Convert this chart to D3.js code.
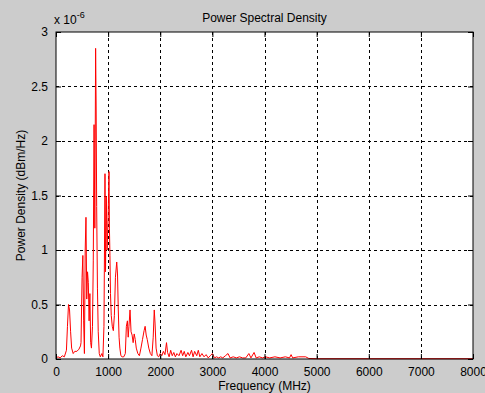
<!DOCTYPE html>
<html>
<head>
<meta charset="utf-8">
<script src="https://cdn.jsdelivr.net/npm/d3@7"></script>
<style>
  body { margin: 0; background: #cccccc; }
  svg { display: block; font-family: "Liberation Sans", Arial, sans-serif; }
</style>
</head>
<body>
<div id="chart"></div>
<script>
// frequency (MHz) and power density (x 10^-6 dBm/Hz)
const freqMHz = [0, 40, 80, 120, 160, 200, 220, 240, 260, 280, 300, 330, 360, 400, 440, 470,
  480, 500, 515, 530, 545, 560, 575, 590, 605, 620, 635, 650, 665, 680, 700, 715, 730, 745, 760, 770,
  780, 795, 810, 830, 850, 880, 900, 920, 940, 950, 965, 980, 1000, 1017, 1025, 1035, 1045, 1060,
  1080, 1100, 1120, 1140, 1165, 1180, 1195, 1210, 1225, 1245, 1270, 1300, 1330, 1350, 1370, 1385, 1400,
  1420, 1440, 1460, 1480, 1500, 1520, 1540, 1570, 1600, 1630, 1660, 1690, 1710, 1730, 1750, 1780,
  1810, 1840, 1865, 1885, 1900, 1920, 1945, 1970, 2000, 2030, 2060, 2090, 2120, 2140, 2170, 2200,
  2230, 2260, 2290, 2320, 2360, 2400, 2430, 2460, 2490, 2530, 2560, 2600, 2630, 2660, 2700, 2730,
  2760, 2800, 2840, 2880, 2920, 2960, 3000, 3040, 3080, 3120, 3160, 3200, 3250, 3300, 3340, 3400,
  3460, 3520, 3580, 3640, 3700, 3740, 3800, 3840, 3900, 3960, 4020, 4100, 4200, 4300, 4400, 4480,
  4510, 4540, 4650, 4790, 4850, 5000, 6000, 7000, 8000];
const psd = [0.01, 0.02, 0.01, 0.03, 0.02, 0.08, 0.30, 0.50, 0.45, 0.25, 0.10, 0.05, 0.07, 0.07, 0.09, 0.12,
  0.15, 0.75, 0.95, 0.35, 0.05, 1.00, 1.30, 0.55, 0.80, 0.70, 0.35, 0.60, 0.15, 0.10, 0.30, 0.90, 2.15, 1.20, 2.85, 2.33,
  1.40, 0.65, 0.25, 0.05, 0.02, 0.05, 0.02, 0.30, 1.70, 0.80, 1.49, 1.00, 1.30, 1.72, 1.20, 0.95, 0.60, 0.40,
  0.30, 0.26, 0.40, 0.75, 0.89, 0.78, 0.45, 0.20, 0.10, 0.03, 0.02, 0.02, 0.05, 0.30, 0.35, 0.20, 0.30,
  0.45, 0.25, 0.22, 0.15, 0.23, 0.18, 0.10, 0.05, 0.03, 0.10, 0.18, 0.26, 0.30, 0.22, 0.18, 0.10,
  0.05, 0.03, 0.20, 0.45, 0.33, 0.10, 0.03, 0.02, 0.05, 0.03, 0.07, 0.04, 0.15, 0.06, 0.02, 0.08,
  0.03, 0.06, 0.02, 0.05, 0.03, 0.08, 0.03, 0.07, 0.02, 0.06, 0.03, 0.08, 0.02, 0.07, 0.03, 0.08,
  0.02, 0.05, 0.02, 0.04, 0.01, 0.03, 0.05, 0.01, 0.02, 0.01, 0.02, 0.01, 0.03, 0.05, 0.01, 0.02,
  0.01, 0.02, 0.01, 0.01, 0.05, 0.01, 0.06, 0.01, 0.02, 0.01, 0.02, 0.01, 0.02, 0.01, 0.02, 0.01,
  0.04, 0.01, 0.02, 0.02, 0.005, 0.003, 0.003, 0.003, 0.003];

const xTicks = [0, 1000, 2000, 3000, 4000, 5000, 6000, 7000, 8000];
const yTicks = [0, 0.5, 1, 1.5, 2, 2.5, 3];

const width = 485, height = 393;
const margin = { left: 56, top: 32, right: 12, bottom: 34 };
const iw = width - margin.left - margin.right;
const ih = height - margin.top - margin.bottom;

const svg = d3.select('#chart').append('svg')
  .attr('width', width)
  .attr('height', height);

svg.append('rect').attr('width', width).attr('height', height).attr('fill', '#cccccc');

const g = svg.append('g').attr('transform', `translate(${margin.left},${margin.top})`);

const x = d3.scaleLinear().domain([0, 8000]).range([0, iw]);
const y = d3.scaleLinear().domain([0, 3]).range([ih, 0]);

g.append('rect').attr('width', iw).attr('height', ih).attr('fill', '#fff');

// dotted grid
g.selectAll('.gx').data(xTicks.slice(1, -1)).enter().append('line')
  .attr('x1', d => Math.round(x(d)) + 0.5).attr('x2', d => Math.round(x(d)) + 0.5)
  .attr('y1', 0).attr('y2', ih)
  .attr('stroke', '#000').attr('stroke-dasharray', '3,3');
g.selectAll('.gy').data(yTicks.slice(1, -1)).enter().append('line')
  .attr('y1', d => Math.round(y(d)) + 0.5).attr('y2', d => Math.round(y(d)) + 0.5)
  .attr('x1', 0).attr('x2', iw)
  .attr('stroke', '#000').attr('stroke-dasharray', '3,3');

// spectrum line
const line = d3.line().x((d, i) => x(freqMHz[i])).y(d => y(d));
g.append('path').datum(psd)
  .attr('d', line)
  .attr('fill', 'none')
  .attr('stroke', '#ff0000')
  .attr('stroke-width', 1);

// axes, ticks inward on all sides
const xAxis = d3.axisBottom(x).tickValues(xTicks).tickSizeInner(-5).tickSizeOuter(0).tickPadding(8)
  .tickFormat(d3.format('d'));
const yAxis = d3.axisLeft(y).tickValues(yTicks).tickSizeInner(-5).tickSizeOuter(0).tickPadding(8)
  .tickFormat(d3.format('~g'));

g.append('g').attr('transform', `translate(0,${ih})`).call(xAxis);
g.append('g').call(yAxis);
g.append('g').call(d3.axisTop(x).tickValues(xTicks).tickSizeInner(-5).tickSizeOuter(0).tickFormat(''));
g.append('g').attr('transform', `translate(${iw},0)`)
  .call(d3.axisRight(y).tickValues(yTicks).tickSizeInner(-5).tickSizeOuter(0).tickFormat(''));

g.selectAll('.domain').remove();
g.selectAll('.tick line').attr('stroke', '#000');
g.selectAll('.tick text').attr('fill', '#000').attr('font-size', 12)
  .attr('font-family', '"Liberation Sans", Arial, sans-serif');

g.append('rect').attr('width', iw).attr('height', ih)
  .attr('fill', 'none').attr('stroke', '#000').attr('stroke-width', 1);

// exponent label
const ex = svg.append('text').attr('x', 54).attr('y', 24)
  .attr('font-size', 12).attr('fill', '#000');
ex.append('tspan').text('x 10');
ex.append('tspan').attr('dy', -6).attr('font-size', 9).text('-6');

svg.append('text')
  .attr('x', margin.left + iw / 2).attr('y', 22)
  .attr('text-anchor', 'middle').attr('font-size', 12).attr('fill', '#000')
  .text('Power Spectral Density');

svg.append('text')
  .attr('x', margin.left + iw / 2).attr('y', 390)
  .attr('text-anchor', 'middle').attr('font-size', 12).attr('fill', '#000')
  .text('Frequency (MHz)');

svg.append('text')
  .attr('transform', `translate(25,${margin.top + ih / 2}) rotate(-90)`)
  .attr('text-anchor', 'middle').attr('font-size', 12).attr('fill', '#000')
  .text('Power Density (dBm/Hz)');
</script>
</body>
</html>
